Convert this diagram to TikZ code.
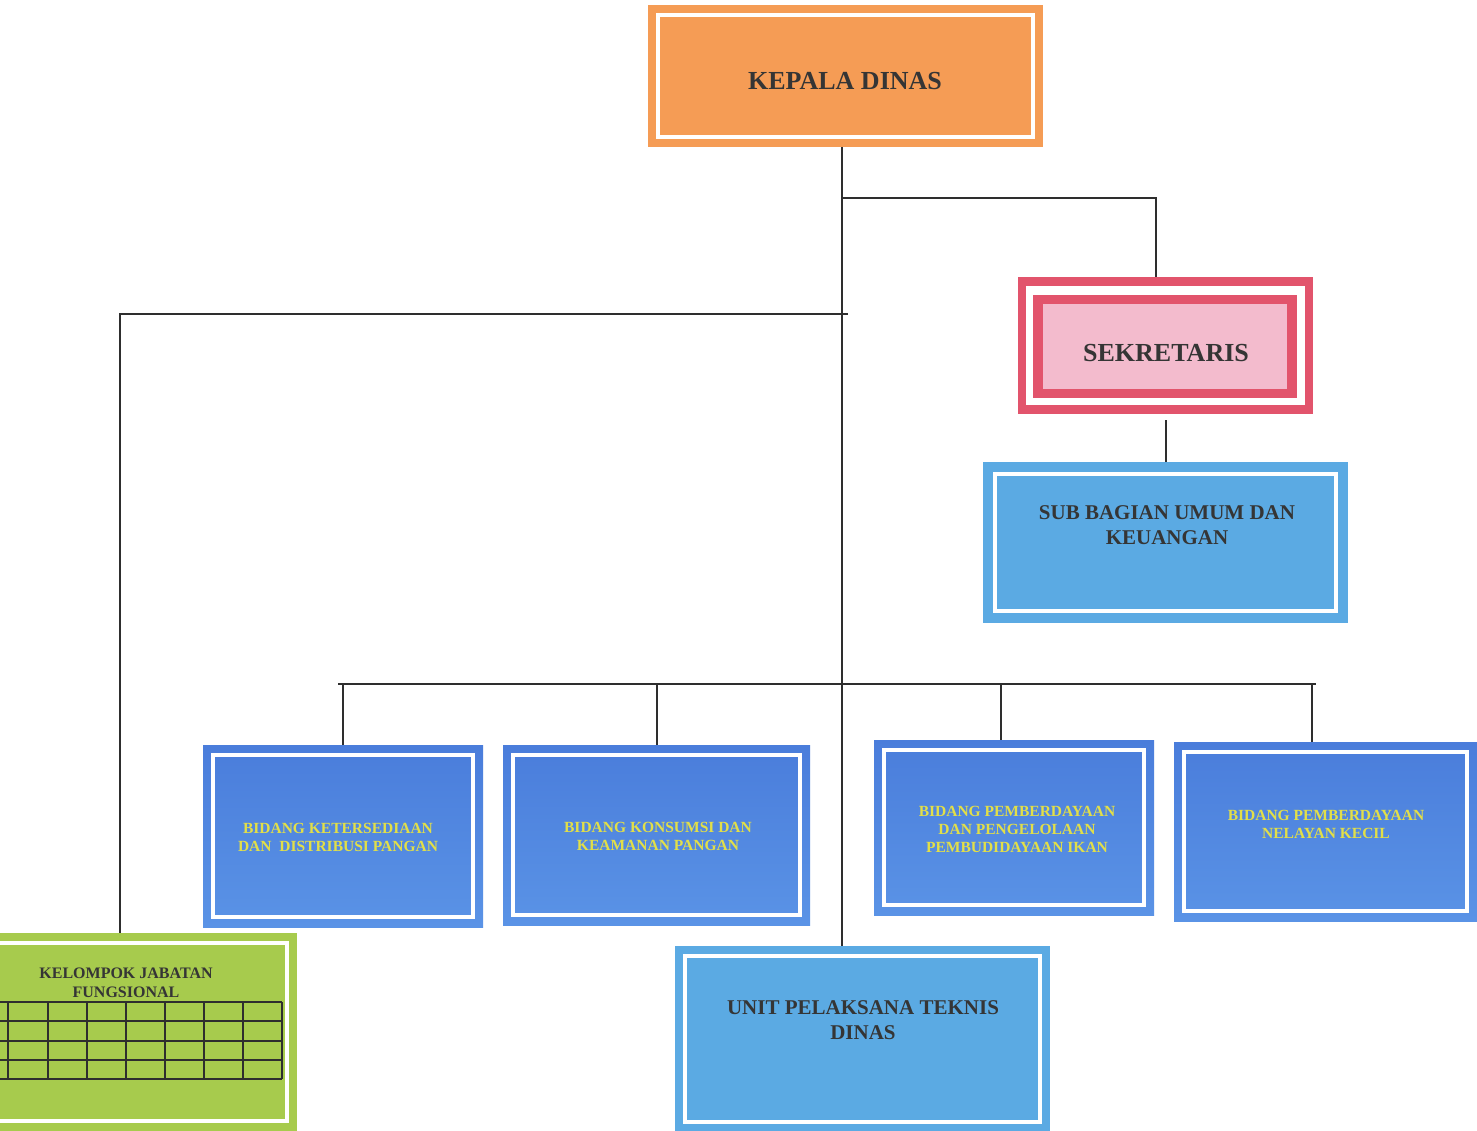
\documentclass[tikz,border=0pt]{standalone}
\usepackage{fontspec}
\setmainfont{Liberation Serif}
\definecolor{kepalaC}{HTML}{F59C55}
\definecolor{sekRed}{HTML}{E2546C}
\definecolor{sekPink}{HTML}{F3BBCD}
\definecolor{subC}{HTML}{5BAAE3}
\definecolor{bidTop}{HTML}{4A7DDB}
\definecolor{bidBot}{HTML}{5A93E6}
\definecolor{kelC}{HTML}{A7CB4D}
\definecolor{txtC}{HTML}{353535}
\definecolor{yelC}{HTML}{E2DF48}
\definecolor{lineC}{HTML}{2E2E2E}
\tikzset{
  orgbox/.style={rectangle, inner sep=0pt, outer sep=0pt, anchor=north west,
    path picture={\draw[white,line width=4pt]
      ([shift={(#1,-#1)}]path picture bounding box.north west) rectangle
      ([shift={(-#1,#1)}]path picture bounding box.south east);}},
  orgbox/.default=10pt,
  sekbox/.style={rectangle, inner sep=0pt, outer sep=0pt, anchor=north west, fill=sekRed,
    path picture={
      \fill[white] ([shift={(8pt,-9pt)}]path picture bounding box.north west) rectangle ([shift={(-8pt,9pt)}]path picture bounding box.south east);
      \fill[sekRed] ([shift={(15pt,-18pt)}]path picture bounding box.north west) rectangle ([shift={(-16pt,16pt)}]path picture bounding box.south east);
      \fill[sekPink] ([shift={(25pt,-27pt)}]path picture bounding box.north west) rectangle ([shift={(-26pt,25pt)}]path picture bounding box.south east);}},
  bidbox/.style={orgbox, top color=bidTop, bottom color=bidBot},
  bigtxt/.style={text=txtC, font=\bfseries\fontsize{26}{30}\selectfont, inner sep=0pt},
  midtxt/.style={text=txtC, font=\bfseries\fontsize{21}{25}\selectfont, align=center, inner sep=0pt},
  bidtxt/.style={text=yelC, font=\bfseries\fontsize{15.5}{18}\selectfont, align=center, inner sep=0pt},
  kltxt/.style={text=txtC, font=\bfseries\fontsize{16}{19}\selectfont, align=center, inner sep=0pt},
  conn/.style={draw=lineC, line width=2pt},
}
\begin{document}
\begin{tikzpicture}[x=1pt,y=-1pt]
\useasboundingbox[fill=white] (0,0) rectangle (1477,1131);

% boxes
\node[orgbox, fill=kepalaC, minimum width=395pt, minimum height=142pt] (kepala) at (648,5) {};
\node[sekbox, minimum width=295pt, minimum height=137pt] (sek) at (1018,277) {};
\node[orgbox=12pt, fill=subC, minimum width=365pt, minimum height=161pt] (sub) at (983,462) {};
\node[bidbox, minimum width=280pt, minimum height=182pt] (b1) at (203,745) {};
\node[bidbox, minimum width=307pt, minimum height=180pt] (b2) at (503,745) {};
\node[bidbox, minimum width=280pt, minimum height=175pt] (b3) at (874,740) {};
\node[bidbox, minimum width=303pt, minimum height=179pt] (b4) at (1174,742) {};
\node[orgbox, fill=kelC, minimum width=317pt, minimum height=198pt] (kel) at (-20,933) {};
\node[orgbox, fill=subC, minimum width=375pt, minimum height=186pt] (upt) at (675,946) {};

% grid in kelompok
\foreach \yy in {1002,1021,1041,1060,1079}
  \draw[lineC, line width=1.5pt] (0,\yy) -- (282,\yy);
\foreach \xx in {8,48,87,126,165,204,243,282}
  \draw[lineC, line width=1.5pt] (\xx,1002) -- (\xx,1079);

% texts
\node[bigtxt] (kepalaT) at (845,81) {KEPALA DINAS};
\node[bigtxt] (sekT) at (1166,353) {SEKRETARIS};
\node[midtxt] (subT) at (1167,525) {SUB BAGIAN UMUM DAN\\KEUANGAN};
\node[midtxt] (uptT) at (863,1020) {UNIT PELAKSANA TEKNIS\\DINAS};
\node[kltxt] (kelT) at (126,983) {KELOMPOK JABATAN\\FUNGSIONAL};
\node[bidtxt] (b1T) at (338,837) {BIDANG KETERSEDIAAN\\DAN\ \ DISTRIBUSI PANGAN};
\node[bidtxt] (b2T) at (658,836) {BIDANG KONSUMSI DAN\\KEAMANAN PANGAN};
\node[bidtxt] (b3T) at (1017,829) {BIDANG PEMBERDAYAAN\\DAN PENGELOLAAN\\PEMBUDIDAYAAN IKAN};
\node[bidtxt] (b4T) at (1326,824) {BIDANG PEMBERDAYAAN\\NELAYAN KECIL};

% connectors
\coordinate (trunk) at (842,0);
\coordinate (j1) at (842,198);
\coordinate (j1r) at (1156,198);
\coordinate (j2) at (848,314);
\coordinate (j2l) at (120,314);
\coordinate (busL) at (338,684);
\coordinate (busR) at (1316,684);
\draw[conn] (kepala.south -| trunk) -- (upt.north -| trunk);
\draw[conn] (j1) -- (j1r) -- (sek.north -| j1r);
\draw[conn] (j2) -- (j2l) -- (kel.north -| j2l);
\draw[conn] ([yshift=-6pt]sek.south) -- (sub.north);
\draw[conn] (busL) -- (busR);
\draw[conn] (busL -| 343,0) -- (b1.north -| 343,0);
\draw[conn] (busL -| 657,0) -- (b2.north -| 657,0);
\draw[conn] (busL -| 1001,0) -- (b3.north -| 1001,0);
\draw[conn] (busR -| 1312,0) -- (b4.north -| 1312,0);
\end{tikzpicture}
\end{document}
